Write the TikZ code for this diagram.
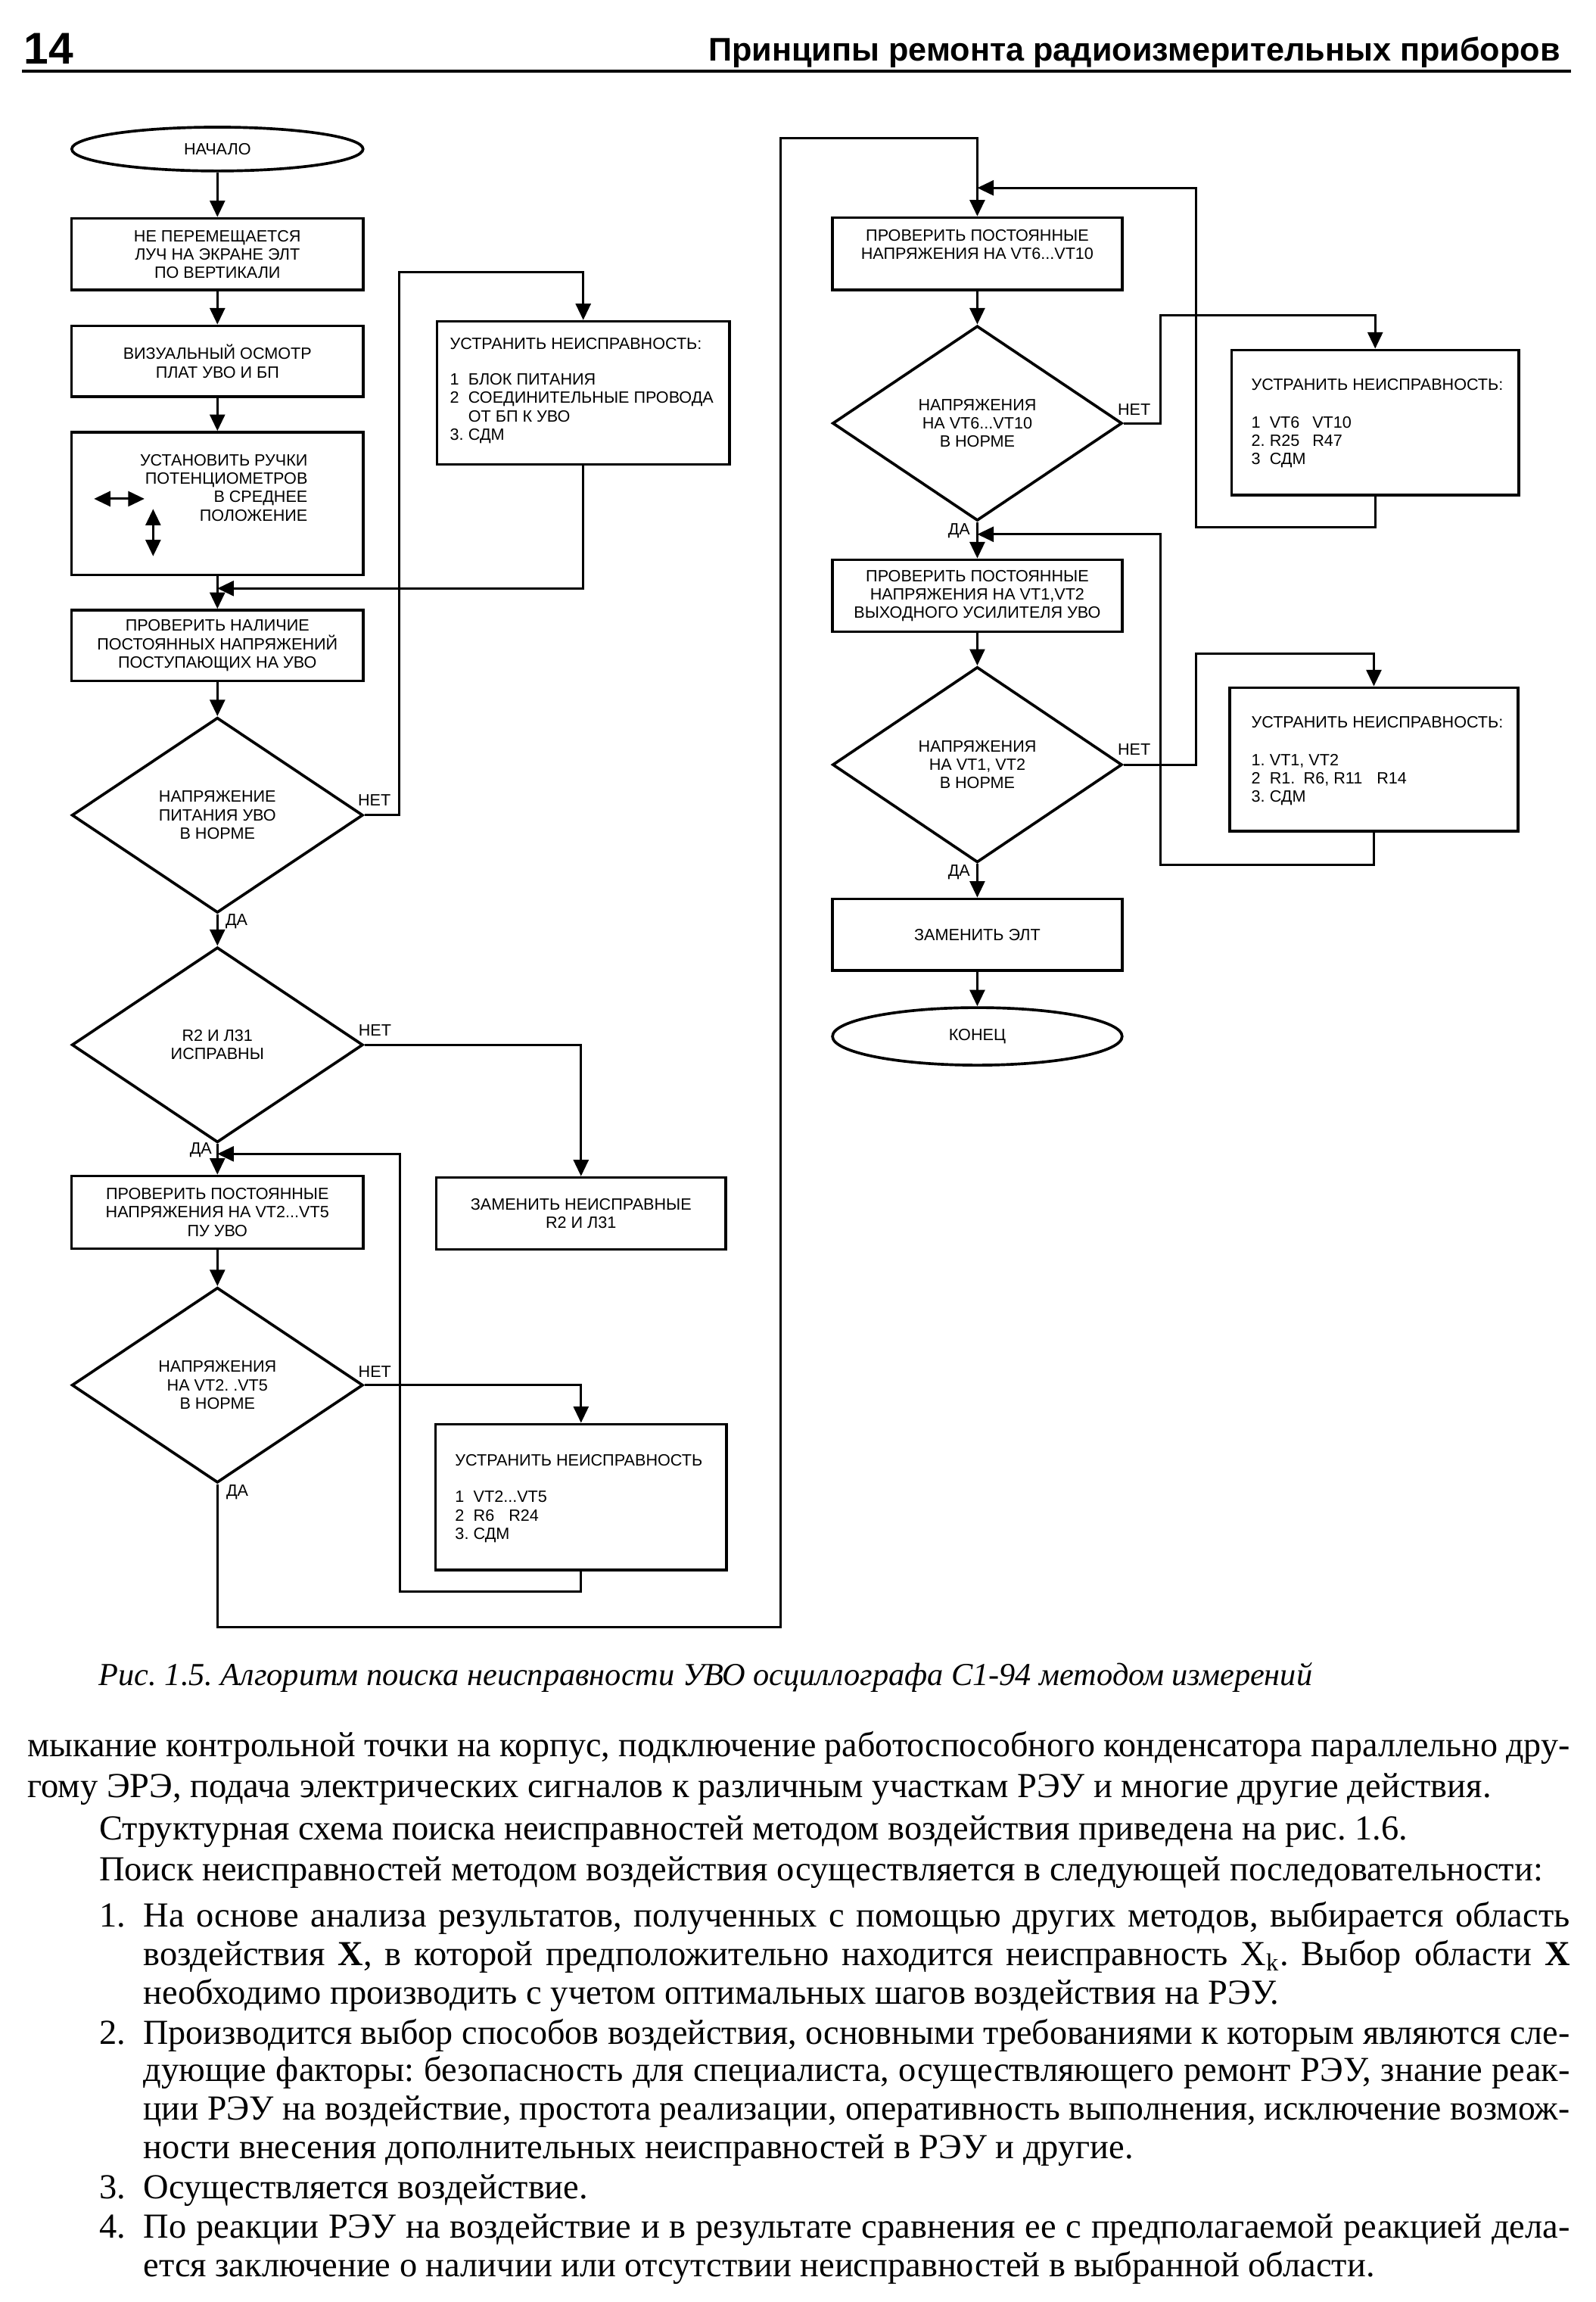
\documentclass[tikz,border=0pt]{standalone}
\usepackage{fontspec}
\usepackage{graphicx}
\setmainfont{Liberation Serif}
\newfontfamily\dsf{Liberation Sans}
\usetikzlibrary{shapes.geometric,arrows.meta}
\newcommand{\dfont}{\dsf\fontsize{5}{5.6}\selectfont}
\newcommand{\bodyf}{\fontsize{10.75}{12}\selectfont}
\newcommand{\nb}[1]{\makebox[5.6pt][l]{#1}}
\newsavebox\jbox
\newlength\jwd
\newcommand{\jl}[2]{\sbox\jbox{#2}\jwd=\wd\jbox\relax
  \ifdim\jwd>#1\relax\pgfmathsetmacro\jr{#1/\the\jwd}\scalebox{\jr}[1]{\usebox\jbox}%
  \else\makebox[#1][s]{#2}\fi}
\frenchspacing
\begin{document}
\begin{tikzpicture}[x=0.45pt,y=-0.45pt,
  box/.style={draw,line width=0.85pt,rectangle,inner sep=0pt},
  dia/.style={draw,line width=0.85pt,diamond,inner sep=0pt},
  term/.style={draw,line width=0.85pt,ellipse,inner sep=0pt},
  lbl/.style={font=\dfont,align=center,inner sep=0pt},
  lst/.style={font=\dfont,align=left,inner sep=0pt,anchor=north west},
  conn/.style={line width=0.7pt},
  tip/.tip={Triangle[length=5pt,width=4.6pt]},
  arr/.style={conn,-tip},
  body/.style={font=\bodyf,inner sep=0pt,anchor=base west},
]
\fill[white] (0,0) rectangle (1085,1564.5);
\useasboundingbox (0,0) rectangle (1085,1564.5);

% header
\node[font=\dsf\bfseries\fontsize{13.6}{14}\selectfont,anchor=base west,inner sep=0pt] (pg) at (16,43.5) {14};
\node[font=\dsf\bfseries\fontsize{10}{12}\selectfont,anchor=base east,inner sep=0pt] (hd) at (1061,41.5) {Принципы ремонта радиоизмерительных приборов};
\coordinate (r1) at (15,48.5); \coordinate (r2) at (1068,48.5);
\draw[line width=1pt] (r1) -- (r2);

% left column
\node[term,font=\dfont,minimum width=89.1pt,minimum height=13.4pt] (E1) at (147.8,101.3) {НАЧАЛО};
\node[box,lbl,minimum width=89.3pt,minimum height=21.9pt] (B1) at (147.8,172.75) {НЕ ПЕРЕМЕЩАЕТСЯ\\ЛУЧ НА ЭКРАНЕ ЭЛТ\\ПО ВЕРТИКАЛИ};
\node[box,lbl,minimum width=89.3pt,minimum height=21.7pt] (B2) at (147.8,245.55) {ВИЗУАЛЬНЫЙ ОСМОТР\\ПЛАТ УВО И БП};
\node[box,minimum width=89.3pt,minimum height=43.6pt] (B3) at (147.8,342.25) {};
\node[font=\dfont,align=right,inner sep=0pt,anchor=east] (B3t) at (209.5,331.5) {УСТАНОВИТЬ РУЧКИ\\ПОТЕНЦИОМЕТРОВ\\В СРЕДНЕЕ\\ПОЛОЖЕНИЕ};
\coordinate (h1) at (63.9,339); \coordinate (h2) at (98.2,339);
\coordinate (v1) at (104.1,345.9); \coordinate (v2) at (104.1,378);
\draw[conn,tip-tip] (h1) -- (h2);
\draw[conn,tip-tip] (v1) -- (v2);
\node[box,lbl,minimum width=89.3pt,minimum height=21.6pt] (B4) at (147.8,438.7) {ПРОВЕРИТЬ НАЛИЧИЕ\\ПОСТОЯННЫХ НАПРЯЖЕНИЙ\\ПОСТУПАЮЩИХ НА УВО};
\node[dia,lbl,minimum width=89.1pt,minimum height=59.7pt] (D1) at (147.8,554) {НАПРЯЖЕНИЕ\\ПИТАНИЯ УВО\\В НОРМЕ};
\node[dia,lbl,minimum width=89.1pt,minimum height=59.7pt] (D2) at (147.8,710.1) {R2 И Л31\\ИСПРАВНЫ};
\node[box,lbl,minimum width=89.3pt,minimum height=22.2pt] (B5) at (147.8,823.9) {ПРОВЕРИТЬ ПОСТОЯННЫЕ\\НАПРЯЖЕНИЯ НА VT2...VT5\\ПУ УВО};
\node[dia,lbl,minimum width=89.1pt,minimum height=59.7pt] (D3) at (147.8,941.35) {НАПРЯЖЕНИЯ\\НА VT2. .VT5\\В НОРМЕ};

\node[box,minimum width=89.5pt,minimum height=43.7pt] (U1) at (396.5,267) {};
\node[lst] (U1t) at (305.5,229.4) {УСТРАНИТЬ НЕИСПРАВНОСТЬ:\\[5.25pt]\nb{1}БЛОК ПИТАНИЯ\\\nb{2}СОЕДИНИТЕЛЬНЫЕ ПРОВОДА\\\nb{}ОТ БП К УВО\\\nb{3.}СДМ};
\node[box,lbl,minimum width=88.6pt,minimum height=22pt] (Z) at (395,824.75) {ЗАМЕНИТЬ НЕИСПРАВНЫЕ\\R2 И Л31};
\node[box,minimum width=89.1pt,minimum height=44.5pt] (U3) at (395,1017.4) {};
\node[lst] (U3t) at (309,988.1) {УСТРАНИТЬ НЕИСПРАВНОСТЬ\\[5.6pt]\nb{1}VT2...VT5\\\nb{2}R6\hspace{4.4pt}R24\\\nb{3.}СДМ};

% right column
\node[box,minimum width=88.6pt,minimum height=22.1pt] (R1) at (664.4,172.5) {};
\node[lbl] (R1t) at (664.4,166.4) {ПРОВЕРИТЬ ПОСТОЯННЫЕ\\НАПРЯЖЕНИЯ НА VT6...VT10};
\node[dia,lbl,minimum width=88.6pt,minimum height=59.6pt] (DR1) at (664.4,287.65) {НАПРЯЖЕНИЯ\\НА VT6...VT10\\В НОРМЕ};
\node[box,minimum width=87.9pt,minimum height=44.3pt] (UR1) at (934.9,287.1) {};
\node[lst] (UR1t) at (850.3,256.9) {УСТРАНИТЬ НЕИСПРАВНОСТЬ:\\[6pt]\nb{1}VT6\hspace{3.9pt}VT10\\\nb{2.}R25\hspace{3.9pt}R47\\\nb{3}СДМ};
\node[box,lbl,minimum width=88.6pt,minimum height=22.05pt] (R2) at (664.4,404.9) {ПРОВЕРИТЬ ПОСТОЯННЫЕ\\НАПРЯЖЕНИЯ НА VT1,VT2\\ВЫХОДНОГО УСИЛИТЕЛЯ УВО};
\node[dia,lbl,minimum width=88.6pt,minimum height=59.8pt] (DR2) at (664.4,519.7) {НАПРЯЖЕНИЯ\\НА VT1, VT2\\В НОРМЕ};
\node[box,minimum width=88.2pt,minimum height=43.9pt] (UR2) at (934,516.1) {};
\node[lst] (UR2t) at (850.3,486.7) {УСТРАНИТЬ НЕИСПРАВНОСТЬ:\\[5.8pt]\nb{1.}VT1, VT2\\\nb{2}R1.\hspace{2.6pt}R6, R11\hspace{4.4pt}R14\\\nb{3.}СДМ};
\node[box,lbl,minimum width=88.6pt,minimum height=21.9pt] (BE) at (664.4,635.25) {ЗАМЕНИТЬ ЭЛТ};
\node[term,font=\dfont,minimum width=88.6pt,minimum height=17.6pt] (E2) at (664.4,704.35) {КОНЕЦ};

% labels
\node[lbl] (n1) at (254.5,544) {НЕТ};
\node[lbl] (y1) at (160.8,626.2) {ДА};
\node[lbl] (n2) at (254.9,700.3) {НЕТ};
\node[lbl] (y2) at (136.5,781.6) {ДА};
\node[lbl] (n3) at (254.8,932.4) {НЕТ};
\node[lbl] (y3) at (161.3,1013.9) {ДА};
\node[lbl] (n4) at (771,278.2) {НЕТ};
\node[lbl] (y4) at (652,360.8) {ДА};
\node[lbl] (n5) at (771,509.1) {НЕТ};
\node[lbl] (y5) at (652,593) {ДА};

% coordinates for connectors
\coordinate (c1) at (271.5,185.1);
\coordinate (j1) at (147.8,399.9);
\coordinate (c3) at (272,1081.7);
\coordinate (j2) at (147.8,784.2);
\coordinate (c4) at (147.8,1105.8);
\coordinate (c5) at (530.5,93.7);
\coordinate (c6) at (813.1,358.5);
\coordinate (j3) at (664.4,127.7);
\coordinate (c7) at (789,214.5);
\coordinate (c8) at (813.1,444.1);
\coordinate (c9) at (789,587.9);
\coordinate (j4) at (664.4,363.1);

% connectors left
\draw[arr] (E1) -- (B1);
\draw[arr] (B1) -- (B2);
\draw[arr] (B2) -- (B3);
\draw[arr] (B3) -- (B4);
\draw[arr] (B4) -- (D1);
\draw[arr] (D1.south) -- (D2.north);
\draw[arr] (D2.south) -- (B5.north);
\draw[arr] (B5) -- (D3.north);
\draw[arr] (D1.east) -| (c1) -| (U1.north);
\draw[arr] (U1.south) |- (j1);
\draw[arr] (D2.east) -| (Z.north);
\draw[arr] (D3.east) -| (U3.north);
\draw[arr] (U3.south) |- (c3) |- (j2);
\draw[arr] (D3.south) -- (c4) -| (c5) -| (R1.north);
% connectors right
\draw[arr] (R1) -- (DR1.north);
\draw[arr] (DR1.south) -- (R2.north);
\draw[arr] (R2) -- (DR2.north);
\draw[arr] (DR2.south) -- (BE.north);
\draw[arr] (BE) -- (E2);
\draw[arr] (DR1.east) -| (c7) -| (UR1.north);
\draw[arr] (UR1.south) |- (c6) |- (j3);
\draw[arr] (DR2.east) -| (c8) -| (UR2.north);
\draw[arr] (UR2.south) |- (c9) |- (j4);

% caption and body
\node[font=\itshape\fontsize{9.8}{12}\selectfont,anchor=base west,inner sep=0pt] (cap) at (66.9,1145.4) {Рис. 1.5. Алгоритм поиска неисправности УВО осциллографа С1-94 методом измерений};
\node[body] (t1) at (18.4,1194) {\jl{471.8pt}{мыкание контрольной точки на корпус, подключение работоспособного конденсатора параллельно дру-}};
\node[body] (t2) at (18.4,1221.5) {гому ЭРЭ, подача электрических сигналов к различным участкам РЭУ и многие другие действия.};
\node[body] (t3) at (67,1250.4) {Структурная схема поиска неисправностей методом воздействия приведена на рис. 1.6.};
\node[body] (t4) at (67,1278) {Поиск неисправностей методом воздействия осуществляется в следующей последовательности:};
\node[body] (m1) at (67,1309.4) {1.};
\node[body] (t5) at (97.1,1309.4) {\jl{436.4pt}{На основе анализа результатов, полученных с помощью других методов, выбирается область}};
\node[body] (t6) at (97.1,1335.7) {\jl{436.4pt}{воздействия \textbf{X}, в которой предположительно находится неисправность X\textsubscript{k}. Выбор области \textbf{X}}};
\node[body] (t7) at (97.1,1362) {необходимо производить с учетом оптимальных шагов воздействия на РЭУ.};
\node[body] (m2) at (67,1389.5) {2.};
\node[body] (t8) at (97.1,1389.5) {\jl{436.4pt}{Производится выбор способов воздействия, основными требованиями к которым являются сле-}};
\node[body] (t9) at (97.1,1414.4) {\jl{436.4pt}{дующие факторы: безопасность для специалиста, осуществляющего ремонт РЭУ, знание реак-}};
\node[body] (t10) at (97.1,1440.7) {\jl{436.4pt}{ции РЭУ на воздействие, простота реализации, оперативность выполнения, исключение возмож-}};
\node[body] (t11) at (97.1,1467) {ности внесения дополнительных неисправностей в РЭУ и другие.};
\node[body] (m3) at (67,1494.5) {3.};
\node[body] (t12) at (97.1,1494.5) {Осуществляется воздействие.};
\node[body] (m4) at (67,1521) {4.};
\node[body] (t13) at (97.1,1521) {\jl{436.4pt}{По реакции РЭУ на воздействие и в результате сравнения ее с предполагаемой реакцией дела-}};
\node[body] (t14) at (97.1,1547.5) {ется заключение о наличии или отсутствии неисправностей в выбранной области.};
\end{tikzpicture}
\end{document}
